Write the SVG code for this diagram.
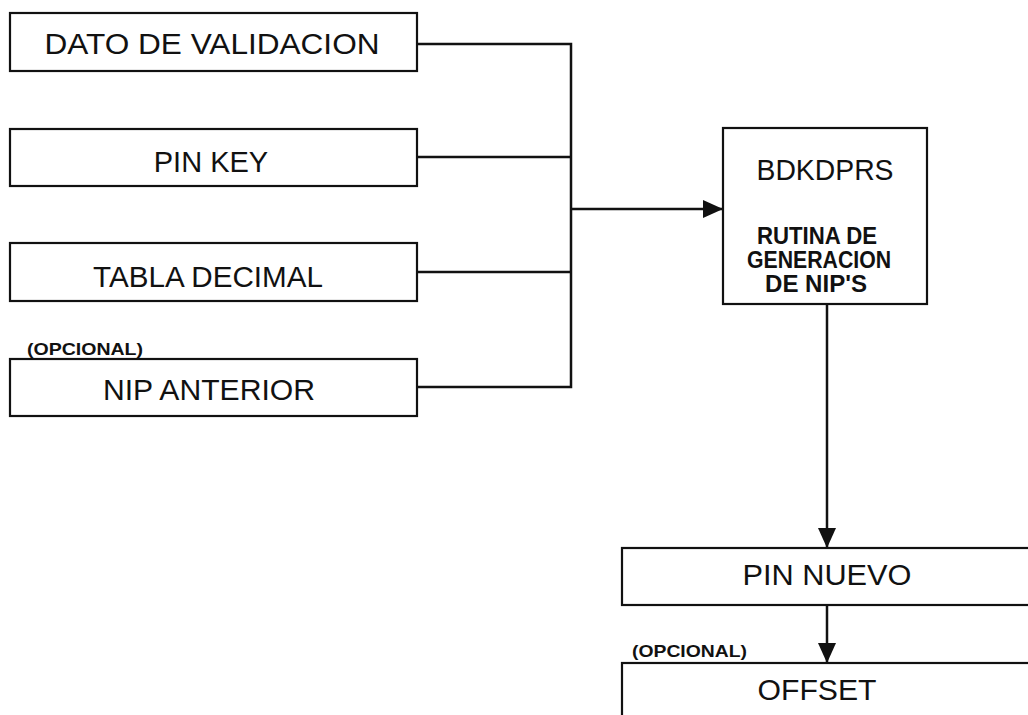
<svg xmlns="http://www.w3.org/2000/svg" width="1028" height="715" viewBox="0 0 1028 715">
<style>
  .box { fill: #fff; stroke: #111; stroke-width: 2.2; }
  .lbl { font-family: "Liberation Sans", Arial, sans-serif; font-size: 29px; fill: #111; text-anchor: middle; }
  .sub { font-family: "Liberation Sans", Arial, sans-serif; font-size: 23px; font-weight: bold; fill: #111; text-anchor: middle; }
  .opt { font-family: "Liberation Sans", Arial, sans-serif; font-size: 17px; font-weight: bold; fill: #111; }
  .wire { fill: none; stroke: #111; stroke-width: 2.5; }
</style>
<defs>
  <marker id="arr" markerUnits="userSpaceOnUse" markerWidth="20" markerHeight="18" viewBox="0 0 20 18" refX="20" refY="9" orient="auto">
    <path d="M0,0 L20,9 L0,18 Z" fill="#111"/>
  </marker>
</defs>
<rect width="1028" height="715" fill="#fff"/>

<g id="connectors">
  <polyline class="wire" points="417,44 571,44 571,387 417,387"/>
  <line class="wire" x1="417" y1="157" x2="571" y2="157"/>
  <line class="wire" x1="417" y1="272" x2="571" y2="272"/>
  <line class="wire" x1="571" y1="209" x2="723" y2="209" marker-end="url(#arr)"/>
  <line class="wire" x1="827" y1="304" x2="827" y2="548" marker-end="url(#arr)"/>
  <line class="wire" x1="827" y1="605" x2="827" y2="663" marker-end="url(#arr)"/>
</g>

<g id="dato">
  <rect class="box" x="10" y="13" width="407" height="58"/>
  <text class="lbl" x="212" y="54" textLength="335" lengthAdjust="spacingAndGlyphs">DATO DE VALIDACION</text>
</g>
<g id="pinkey">
  <rect class="box" x="10" y="129" width="407" height="57"/>
  <text class="lbl" x="211" y="172">PIN KEY</text>
</g>
<g id="tabla">
  <rect class="box" x="10" y="243" width="407" height="58"/>
  <text class="lbl" x="208" y="287" textLength="230" lengthAdjust="spacingAndGlyphs">TABLA DECIMAL</text>
</g>
<g id="nipanterior">
  <text class="opt" x="27" y="355" textLength="116" lengthAdjust="spacingAndGlyphs">(OPCIONAL)</text>
  <rect class="box" x="10" y="359" width="407" height="57"/>
  <text class="lbl" x="209" y="400" textLength="212" lengthAdjust="spacingAndGlyphs">NIP ANTERIOR</text>
</g>
<g id="bdkdprs">
  <rect class="box" x="723" y="128" width="204" height="176"/>
  <text class="lbl" x="825" y="180" textLength="137" lengthAdjust="spacingAndGlyphs">BDKDPRS</text>
  <text class="sub" x="817" y="244" textLength="120" lengthAdjust="spacingAndGlyphs">RUTINA DE</text>
  <text class="sub" x="819" y="268" textLength="144" lengthAdjust="spacingAndGlyphs">GENERACION</text>
  <text class="sub" x="816" y="292" textLength="102" lengthAdjust="spacingAndGlyphs">DE NIP'S</text>
</g>
<g id="pinnuevo">
  <rect class="box" x="622" y="548" width="420" height="57"/>
  <text class="lbl" x="827" y="585" textLength="169" lengthAdjust="spacingAndGlyphs">PIN NUEVO</text>
</g>
<g id="offset">
  <text class="opt" x="632" y="657" textLength="115" lengthAdjust="spacingAndGlyphs">(OPCIONAL)</text>
  <rect class="box" x="622" y="663" width="420" height="70"/>
  <text class="lbl" x="817" y="700" textLength="119" lengthAdjust="spacingAndGlyphs">OFFSET</text>
</g>
</svg>
